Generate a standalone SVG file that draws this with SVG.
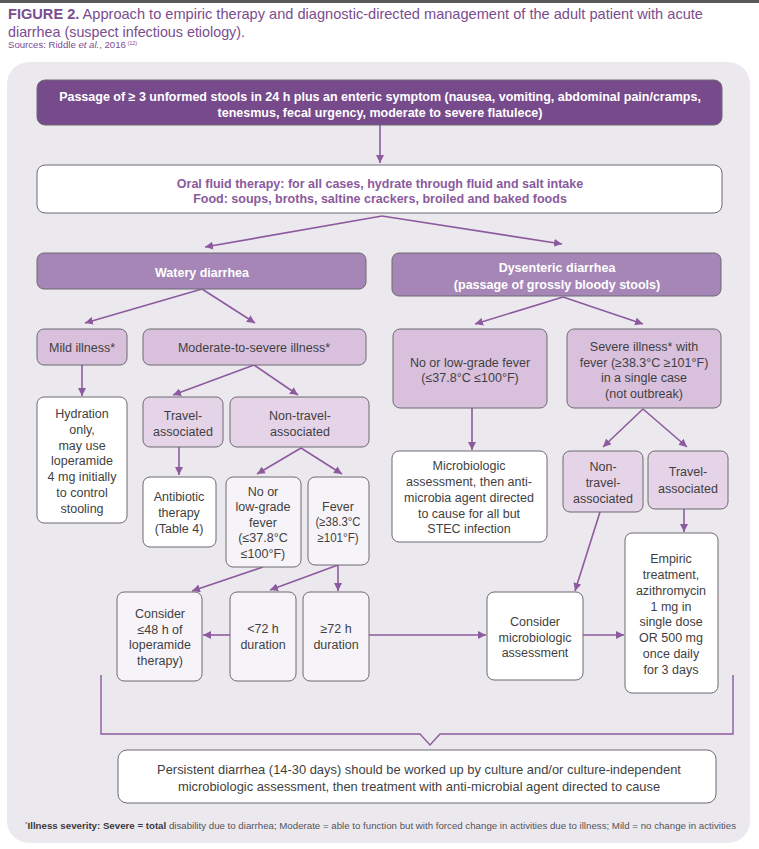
<svg xmlns="http://www.w3.org/2000/svg" width="759" height="849" viewBox="0 0 759 849">
<defs>
<marker id="ah" viewBox="0 0 10 10" refX="10" refY="5" markerWidth="8" markerHeight="8" markerUnits="userSpaceOnUse" orient="auto">
<path d="M0,0 L10,5 L0,10 z" fill="#8e5a9f"/>
</marker>
<style>
text{font-family:"Liberation Sans",Arial,sans-serif;}
.t{font-size:12.5px;fill:#3f3f43;text-anchor:middle;}
.tw{font-size:12.5px;fill:#ffffff;text-anchor:middle;font-weight:bold;}
.tp{font-size:12.5px;fill:#8a5a9c;text-anchor:middle;font-weight:bold;}
.bx{stroke:#6d6a70;stroke-width:1;}
.dark{fill:#774a8c;}
.mid{fill:#a586b6;}
.lt{fill:#d9c1dd;}
.lt2{fill:#e5d3e8;}
.wh{fill:#ffffff;}
.tint{fill:#f7f4f9;}
.c{stroke:#8e5a9f;stroke-width:1.6;fill:none;marker-end:url(#ah);}
.br{stroke:#8e5a9f;stroke-width:1.4;fill:none;}
</style>
</defs>
<rect x="0" y="0" width="759" height="849" fill="#ffffff"/>
<rect x="0" y="0" width="759" height="3" fill="#5a5a5a"/>
<g id="title">
<text x="8" y="19" font-size="14.5" fill="#7a4d8e" textLength="695" lengthAdjust="spacingAndGlyphs"><tspan font-weight="bold">FIGURE 2.</tspan> Approach to empiric therapy and diagnostic-directed management of the adult patient with acute</text>
<text x="8" y="37" font-size="14.5" fill="#7a4d8e" textLength="237" lengthAdjust="spacingAndGlyphs">diarrhea (suspect infectious etiology).</text>
<text x="8" y="48" font-size="9.6" fill="#7a4d8e">Sources: Riddle <tspan font-style="italic">et al.</tspan>, 2016<tspan font-size="5.5" dy="-3.5"> (12)</tspan></text>
</g>
<rect x="7" y="62" width="743" height="781" rx="22" fill="#ebe9ee"/>

<g id="connectors">
<line class="c" x1="380" y1="125" x2="380" y2="163"/>
<line class="c" x1="382" y1="216" x2="205" y2="247"/>
<line class="c" x1="382" y1="216" x2="562" y2="244"/>
<line class="c" x1="202" y1="289" x2="85" y2="323"/>
<line class="c" x1="202" y1="289" x2="255" y2="323"/>
<line class="c" x1="82" y1="365" x2="82" y2="396"/>
<line class="c" x1="254" y1="365" x2="173" y2="395"/>
<line class="c" x1="254" y1="365" x2="298" y2="395"/>
<line class="c" x1="179" y1="447" x2="179" y2="475"/>
<line class="c" x1="301" y1="448" x2="257" y2="474"/>
<line class="c" x1="301" y1="448" x2="342" y2="474"/>
<line class="c" x1="563" y1="297" x2="475" y2="324"/>
<line class="c" x1="563" y1="297" x2="643" y2="324"/>
<line class="c" x1="472" y1="408" x2="472" y2="450"/>
<line class="c" x1="643" y1="409" x2="603" y2="447"/>
<line class="c" x1="643" y1="409" x2="687" y2="447"/>
<line class="c" x1="600" y1="512" x2="575" y2="591"/>
<line class="c" x1="684" y1="509" x2="684" y2="532"/>
<line class="c" x1="263" y1="567" x2="192" y2="591"/>
<line class="c" x1="338" y1="565" x2="270" y2="590"/>
<line class="c" x1="338" y1="565" x2="338" y2="591"/>
<line class="c" x1="230" y1="635" x2="203" y2="635"/>
<line class="c" x1="369" y1="635" x2="486" y2="635"/>
<line class="c" x1="583" y1="635" x2="624" y2="635"/>
<polyline class="br" points="101,675 101,734 420,734 430,745 440,734 733,734 733,675"/>
</g>

<g id="n-passage">
<rect class="bx dark" x="37" y="80" width="685" height="45" rx="8"/>
<text class="tw" x="380" y="101">Passage of ≥ 3 unformed stools in 24 h plus an enteric symptom (nausea, vomiting, abdominal pain/cramps,</text>
<text class="tw" x="380" y="117">tenesmus, fecal urgency, moderate to severe flatulece)</text>
</g>
<g id="n-oral">
<rect class="bx wh" x="37" y="165" width="685" height="48" rx="8"/>
<text class="tp" x="380" y="188">Oral fluid therapy: for all cases, hydrate through fluid and salt intake</text>
<text class="tp" x="380" y="203">Food: soups, broths, saltine crackers, broiled and baked foods</text>
</g>
<g id="n-watery">
<rect class="bx mid" x="37" y="253" width="329" height="36" rx="7"/>
<text class="tw" x="202" y="277">Watery diarrhea</text>
</g>
<g id="n-dysenteric">
<rect class="bx mid" x="392" y="253" width="329" height="43" rx="7"/>
<text class="tw" x="557" y="272">Dysenteric diarrhea</text>
<text class="tw" x="557" y="289">(passage of grossly bloody stools)</text>
</g>
<g id="n-mild">
<rect class="bx lt" x="37" y="329" width="90" height="36" rx="7"/>
<text class="t" x="82" y="352">Mild illness*</text>
</g>
<g id="n-moderate">
<rect class="bx lt" x="143" y="329" width="223" height="36" rx="7"/>
<text class="t" x="254" y="352">Moderate-to-severe illness*</text>
</g>
<g id="n-dys-lowfever">
<rect class="bx lt" x="393" y="329" width="154" height="79" rx="7"/>
<text class="t" x="470" y="367">No or low-grade fever</text>
<text class="t" x="470" y="382">(≤37.8°C ≤100°F)</text>
</g>
<g id="n-severe">
<rect class="bx lt" x="567" y="329" width="154" height="79" rx="7"/>
<text class="t" x="644" y="351">Severe illness* with</text>
<text class="t" x="644" y="367">fever (≥38.3°C ≥101°F)</text>
<text class="t" x="644" y="382">in a single case</text>
<text class="t" x="644" y="398">(not outbreak)</text>
</g>
<g id="n-hydration">
<rect class="bx wh" x="37" y="397" width="90" height="126" rx="7"/>
<text class="t" x="82" y="418">Hydration</text>
<text class="t" x="82" y="434">only,</text>
<text class="t" x="82" y="450">may use</text>
<text class="t" x="82" y="465">loperamide</text>
<text class="t" x="82" y="481">4 mg initially</text>
<text class="t" x="82" y="497">to control</text>
<text class="t" x="82" y="513">stooling</text>
</g>
<g id="n-w-travel">
<rect class="bx lt2" x="143" y="397" width="80" height="50" rx="7"/>
<text class="t" x="183" y="420">Travel-</text>
<text class="t" x="183" y="436">associated</text>
</g>
<g id="n-w-nontravel">
<rect class="bx lt2" x="230" y="397" width="139" height="50" rx="7"/>
<text class="t" x="300" y="420">Non-travel-</text>
<text class="t" x="300" y="436">associated</text>
</g>
<g id="n-antibiotic">
<rect class="bx wh" x="143" y="477" width="73" height="70" rx="7"/>
<text class="t" x="179" y="501">Antibiotic</text>
<text class="t" x="179" y="517">therapy</text>
<text class="t" x="179" y="533">(Table 4)</text>
</g>
<g id="n-w-lowfever">
<rect class="bx tint" x="226" y="477" width="75" height="90" rx="7"/>
<text class="t" x="263" y="496">No or</text>
<text class="t" x="263" y="511">low-grade</text>
<text class="t" x="263" y="527">fever</text>
<text class="t" x="263" y="542">(≤37.8°C</text>
<text class="t" x="263" y="558">≤100°F)</text>
</g>
<g id="n-w-fever">
<rect class="bx tint" x="308" y="477" width="61" height="88" rx="7"/>
<text class="t" x="338" y="511">Fever</text>
<text class="t" x="338" y="526" font-size="11" textLength="45" lengthAdjust="spacingAndGlyphs">(≥38.3°C</text>
<text class="t" x="338" y="542" font-size="11" textLength="41" lengthAdjust="spacingAndGlyphs">≥101°F)</text>
</g>
<g id="n-microbiologic">
<rect class="bx wh" x="392" y="451" width="155" height="91" rx="7"/>
<text class="t" x="469" y="470">Microbiologic</text>
<text class="t" x="469" y="486">assessment, then anti-</text>
<text class="t" x="469" y="502">microbia agent directed</text>
<text class="t" x="469" y="518">to cause for all but</text>
<text class="t" x="469" y="533">STEC infection</text>
</g>
<g id="n-d-nontravel">
<rect class="bx lt2" x="563" y="451" width="80" height="61" rx="7"/>
<text class="t" x="603" y="471">Non-</text>
<text class="t" x="603" y="487">travel-</text>
<text class="t" x="603" y="503">associated</text>
</g>
<g id="n-d-travel">
<rect class="bx lt2" x="648" y="451" width="80" height="58" rx="7"/>
<text class="t" x="688" y="476">Travel-</text>
<text class="t" x="688" y="493">associated</text>
</g>
<g id="n-empiric">
<rect class="bx wh" x="625" y="533" width="93" height="160" rx="7"/>
<text class="t" x="671" y="563">Empiric</text>
<text class="t" x="671" y="579">treatment,</text>
<text class="t" x="671" y="595">azithromycin</text>
<text class="t" x="671" y="611">1 mg in</text>
<text class="t" x="671" y="626">single dose</text>
<text class="t" x="671" y="642">OR 500 mg</text>
<text class="t" x="671" y="658">once daily</text>
<text class="t" x="671" y="674">for 3 days</text>
</g>
<g id="n-consider-lop">
<rect class="bx tint" x="117" y="592" width="85" height="89" rx="7"/>
<text class="t" x="160" y="618">Consider</text>
<text class="t" x="160" y="634">≤48 h of</text>
<text class="t" x="160" y="649">loperamide</text>
<text class="t" x="160" y="665">therapy)</text>
</g>
<g id="n-lt72">
<rect class="bx tint" x="230" y="592" width="66" height="89" rx="7"/>
<text class="t" x="263" y="633">&lt;72 h</text>
<text class="t" x="263" y="649">duration</text>
</g>
<g id="n-ge72">
<rect class="bx tint" x="303" y="592" width="66" height="89" rx="7"/>
<text class="t" x="336" y="633">≥72 h</text>
<text class="t" x="336" y="649">duration</text>
</g>
<g id="n-consider-micro">
<rect class="bx wh" x="487" y="592" width="96" height="88" rx="7"/>
<text class="t" x="535" y="626">Consider</text>
<text class="t" x="535" y="642">microbiologic</text>
<text class="t" x="535" y="657">assessment</text>
</g>
<g id="n-persistent">
<rect class="bx wh" x="118" y="750" width="598" height="53" rx="9"/>
<text class="t" x="419" y="774" style="font-size:12.9px">Persistent diarrhea (14-30 days) should be worked up by culture and/or culture-independent</text>
<text class="t" x="419" y="791" style="font-size:12.9px">microbiologic assessment, then treatment with anti-microbial agent directed to cause</text>
</g>
<g id="footnote">
<text x="25" y="829" font-size="9" fill="#55535a" textLength="711" lengthAdjust="spacingAndGlyphs"><tspan font-size="6" dy="-3">*</tspan><tspan dy="3" font-weight="bold" fill="#3a383d">Illness severity: Severe = total</tspan> disability due to diarrhea; Moderate = able to function but with forced change in activities due to illness; Mild = no change in activities</text>
</g>
</svg>
